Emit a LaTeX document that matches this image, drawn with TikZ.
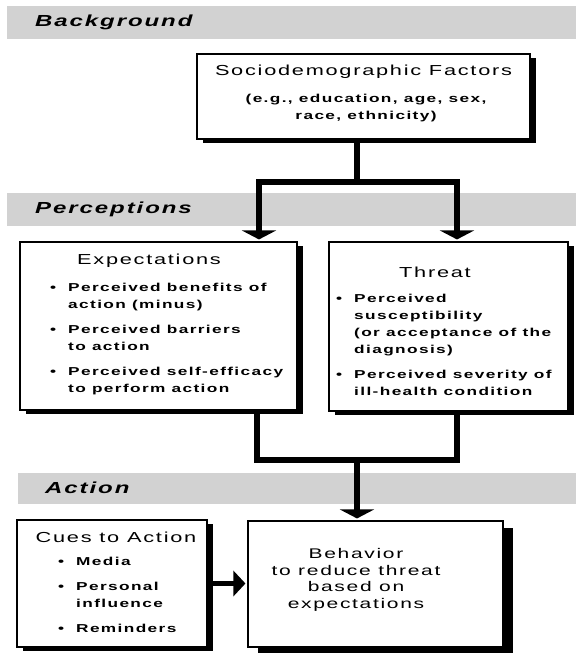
\documentclass[tikz,border=0pt]{standalone}
\usepackage{fontspec}
\newfontfamily\figfont[FakeStretch=1.5,LetterSpace=12]{Liberation Sans}
\usetikzlibrary{arrows.meta}
\usetikzlibrary{shadows}

\newcommand{\titlefont}{\figfont\fontsize{14.5}{17}\selectfont}
\newcommand{\behfont}{\figfont\fontsize{14}{16.7}\selectfont}
\newcommand{\listfont}{\figfont\bfseries\fontsize{11.5}{17}\selectfont}
\newcommand{\bandfont}{\figfont\bfseries\itshape\fontsize{16}{19}\selectfont}
\newcommand{\bul}{\makebox[18pt][l]{•}}
\newcommand{\ind}{\hspace*{18pt}}

\begin{document}
\begin{tikzpicture}[x=1pt,y=-1pt,
    band/.style={fill=gray!35,draw=none},
    band text/.style={anchor=west,inner sep=0pt,font=\bandfont},
    main box/.style={rectangle,draw=black,line width=1.1pt,fill=white,
      drop shadow={shadow xshift=#1,shadow yshift={-0.65*#1},fill=black,opacity=1}},
    main box/.default=6pt,
    title text/.style={inner sep=0pt,font=\titlefont},
    list text/.style={anchor=north west,inner sep=0pt,align=left,font=\listfont},
    link/.style={line width=5.5pt},
    arrow link/.style={link,shorten >=2pt,-{Triangle[width=34pt,length=9pt]}}]

  \useasboundingbox (0,0) rectangle (576,653);

  % grey bands
  \fill[band] (7,6) rectangle (576,39);
  \fill[band] (7,193) rectangle (576,226);
  \fill[band] (18,473) rectangle (576,504);

  \node[band text] (bgtext) at (35,22) {Background};
  \node[band text] (perctext) at (35,209) {Perceptions};
  \node[band text] (acttext) at (45,488) {Action};

  % boxes
  \node[main box,minimum width=333pt,minimum height=85pt] (socio) at (363.5,96.5) {};
  \node[title text] (sociotitle) at (363.5,72) {Sociodemographic Factors};
  \node[title text,align=center,font=\listfont] (sociosub) at (366,108)
    {(e.g., education, age, sex,\\race, ethnicity)};

  \node[main box,minimum width=277pt,minimum height=168pt] (expbox) at (158.5,326) {};
  \node[title text] (exptitle) at (149,261) {Expectations};
  \node[list text] (explist) at (50,283)
    {\bul Perceived benefits of\\\ind action (minus)\\[8pt]
     \bul Perceived barriers\\\ind to action\\[8pt]
     \bul Perceived self-efficacy\\\ind to perform action};

  \node[main box,minimum width=239pt,minimum height=169pt] (thrbox) at (448.5,326.5) {};
  \node[title text] (thrtitle) at (435,272) {Threat};
  \node[list text] (thrlist) at (336,294)
    {\bul Perceived\\\ind susceptibility\\\ind (or acceptance of the\\\ind diagnosis)\\[8pt]
     \bul Perceived severity of\\\ind ill-health condition};

  \node[main box,minimum width=190pt,minimum height=127pt] (cuebox) at (112,583.5) {};
  \node[title text] (cuetitle) at (116,537) {Cues to Action};
  \node[list text] (cuelist) at (58,557)
    {\bul Media\\[8pt]\bul Personal\\\ind influence\\[8pt]\bul Reminders};

  \node[main box=10pt,minimum width=255pt,minimum height=126pt] (behbox) at (375.5,584) {};
  \node[title text,align=center,font=\behfont] (behtext) at (356,580)
    {Behavior\\to reduce threat\\based on\\expectations};

  % connectors
  \coordinate (jtop) at (357,182);
  \coordinate (jbot) at (357,460);

  \draw[link] (socio.south -| jtop) -- (jtop);
  \draw[arrow link] (jtop) -| ([xshift=100.5pt]expbox.north);
  \draw[arrow link] (jtop) -| ([xshift=8.5pt]thrbox.north);

  \draw[link] ([xshift=98.5pt]expbox.south) |- (jbot) -| ([xshift=8.5pt]thrbox.south);
  \draw[arrow link] (jbot) -- (behbox.north -| jbot);

  \draw[link,shorten >=2pt,-{Triangle[width=25pt,length=12pt]}]
    (cuebox.east) -- (behbox.west |- cuebox.east);
\end{tikzpicture}
\end{document}
